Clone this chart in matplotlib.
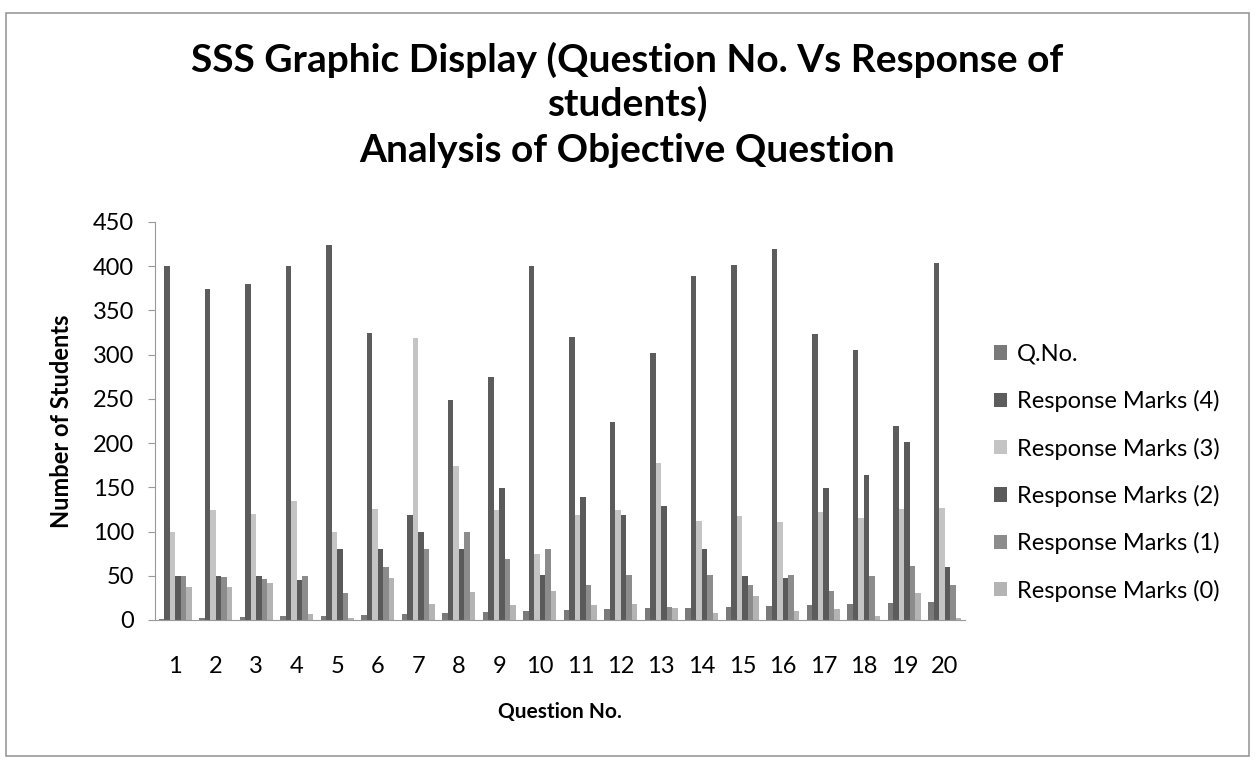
import matplotlib
matplotlib.use("Agg")
import matplotlib.pyplot as plt
import numpy as np
from matplotlib.patches import Rectangle

plt.rcParams['font.family'] = ['Lato', 'DejaVu Sans']

questions = list(range(1, 21))
series_names = ['Q.No.', 'Response Marks (4)', 'Response Marks (3)',
                'Response Marks (2)', 'Response Marks (1)', 'Response Marks (0)']

q_no = questions
marks_4 = [400, 374, 380, 400, 424, 324, 119, 249, 275, 400,
           320, 224, 302, 389, 401, 419, 323, 305, 219, 404]
marks_3 = [100, 124, 120, 134, 99, 126, 319, 174, 124, 75,
           119, 124, 177, 112, 117, 111, 122, 115, 125, 127]
marks_2 = [50, 50, 50, 45, 80, 80, 100, 80, 149, 51,
           139, 119, 129, 80, 50, 48, 149, 164, 201, 60]
marks_1 = [50, 49, 46, 50, 30, 60, 80, 100, 69, 80,
           40, 51, 15, 51, 40, 51, 33, 50, 61, 40]
marks_0 = [37, 37, 42, 7, 2, 48, 18, 32, 17, 33,
           17, 18, 13, 8, 27, 10, 12, 5, 31, 2]

all_series = [q_no, marks_4, marks_3, marks_2, marks_1, marks_0]
colors = ['#7a7a7a', '#5c5c5c', '#c4c4c4', '#5a5a5a', '#8c8c8c', '#b4b4b4']

fig = plt.figure(figsize=(12.55, 7.62), dpi=100)
ax = fig.add_axes([0.1235, 0.1864, 0.6455, 0.5223])

x = np.arange(1, 21)
w = 0.136
for i, (vals, name, c) in enumerate(zip(all_series, series_names, colors)):
    ax.bar(x + (i - 2.5) * w, vals, width=w, color=c, label=name,
           edgecolor='none')

ax.set_xlim(0.5, 20.5)
ax.set_ylim(0, 450)
ax.set_yticks(range(0, 451, 50))
ax.set_xticks(x)
ax.set_xticklabels([str(q) for q in questions])
ax.tick_params(axis='y', labelsize=17, length=5, color='#999999', pad=10)
ax.tick_params(axis='x', labelsize=17, length=0, pad=26)
for s in ['top', 'right']:
    ax.spines[s].set_visible(False)
ax.spines['left'].set_color('#999999')
ax.spines['left'].set_linestyle((0, (1, 1)))
ax.spines['bottom'].set_color('#999999')
ax.spines['bottom'].set_linestyle((0, (1, 1)))

ax.set_ylabel('Number of Students', fontsize=17, fontweight='bold', labelpad=14)
ax.set_xlabel('Question No.', fontsize=15, fontweight='bold', labelpad=18)

fig.text(0.5, 0.921, 'SSS Graphic Display (Question No. Vs Response of',
         ha='center', va='center', fontsize=28, fontweight='bold')
fig.text(0.5, 0.863, 'students)',
         ha='center', va='center', fontsize=28, fontweight='bold')
fig.text(0.5, 0.802, 'Analysis of Objective Question',
         ha='center', va='center', fontsize=28, fontweight='bold')

ax.legend(loc='center left', bbox_to_anchor=(1.01, 0.37), frameon=False,
          fontsize=17, handlelength=0.55, handleheight=0.55,
          handletextpad=0.4, labelspacing=1.07)

fig.patches.append(Rectangle((0.005, 0.008), 0.99, 0.975, transform=fig.transFigure,
                             fill=False, edgecolor='#999999', linewidth=1.2))

fig.savefig('out.png', dpi=100)
